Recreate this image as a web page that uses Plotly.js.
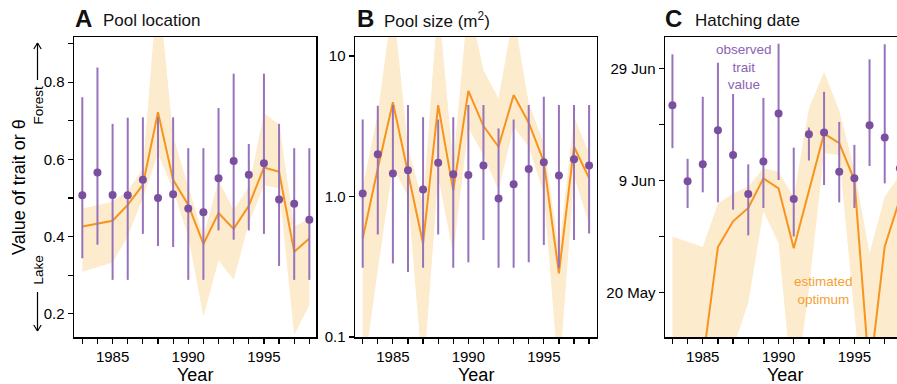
<!DOCTYPE html>
<html>
<head>
<meta charset="utf-8">
<script src="https://cdn.plot.ly/plotly-3.0.1.min.js"></script>
<style>html,body{margin:0;padding:0;background:#fff;}#chart{width:897px;height:384px;}</style>
</head>
<body>
<div id="chart"></div>
<script>
// ---------- data ----------
const years = [1983,1984,1985,1986,1987,1988,1989,1990,1991,1992,1993,1994,1995,1996,1997,1998];
const xTickVals = [1983,1984,1985,1986,1987,1988,1989,1990,1991,1992,1993,1994,1995,1996,1997,1998];
const xTickText = ['','','1985','','','','','1990','','','','','1995','','',''];

// A: Pool location
const locObs   = [0.507,0.566,0.508,0.507,0.547,0.500,0.510,0.473,0.463,0.551,0.596,0.560,0.590,0.496,0.485,0.444];
const locObsHi = [0.761,0.838,0.692,0.708,0.709,0.709,0.709,0.629,0.629,0.733,0.822,0.640,0.822,0.692,0.629,0.629];
const locObsLo = [0.344,0.379,0.288,0.288,0.407,0.376,0.373,0.288,0.288,0.416,0.392,0.416,0.407,0.324,0.288,0.288];
const locOpt   = [0.426,0.433,0.441,0.482,0.534,0.722,0.547,0.482,0.381,0.461,0.420,0.480,0.579,0.568,0.361,0.395];
const locOptHi = [0.473,0.482,0.490,0.519,0.576,1.060,0.660,0.530,0.400,0.546,0.469,0.529,0.720,0.691,0.426,0.447];
const locOptLo = [0.309,0.322,0.333,0.400,0.500,0.616,0.520,0.400,0.193,0.338,0.288,0.434,0.533,0.525,0.145,0.223];
const locTickVals = [0.2,0.3,0.4,0.5,0.6,0.7,0.8,0.9];
const locTickText = ['0.2','','0.4','','0.6','','0.8',''];

// B: Pool size (m2)
const sizeObs   = [1.05,2.00,1.46,1.54,1.12,1.74,1.44,1.42,1.66,0.969,1.22,1.57,1.75,1.41,1.84,1.66];
const sizeObsHi = [3.53,4.43,4.47,4.47,3.66,3.53,3.66,4.47,4.47,3.05,3.53,4.47,5.13,4.47,4.47,4.47];
const sizeObsLo = [0.311,0.537,0.334,0.290,0.311,0.537,0.311,0.340,0.490,0.311,0.311,0.340,0.451,0.311,0.490,0.546];
const sizeOpt   = [0.503,1.58,4.68,1.46,0.463,4.47,1.10,5.65,3.17,2.26,5.27,3.35,1.77,0.284,2.26,1.35];
const sizeOptHi = [1.17,3.9,25,2.26,0.89,25,1.72,25,7.9,5.0,20,4.6,2.39,0.416,3.69,2.03];
const sizeOptLo = [0.05,0.30,1.63,1.0,0.05,1.38,0.39,3.1,1.96,1.11,3.13,2.26,1.05,0.05,1.38,0.64];
const sizeTickVals = [0.1,1,10];
const sizeTickText = ['0.1','1.0','10'];

// C: Hatching date (day of year)
const hatchObs   = [173.5,159.9,162.9,169.0,164.6,157.6,163.4,172.0,156.7,168.3,168.6,161.6,160.4,169.9,167.7,162.2];
const hatchObsHi = [182.6,163.9,175.0,181.1,175.5,162.9,174.8,184.5,165.9,169.5,175.9,170.5,166.4,181.7,184.4,172.0];
const hatchObsLo = [165.8,155.1,157.9,156.1,154.8,150.2,155.1,160.1,150.0,163.6,159.2,156.1,155.1,162.6,159.5,152.0];
const hatchOpt   = [127.0,126.0,127.5,148.1,152.7,155.1,160.4,158.6,147.9,158.2,168.4,166.7,160.1,125.0,148.2,156.7];
const hatchOptHi = [150.0,149.1,148.1,155.9,157.7,158.9,162.2,161.6,157.0,172.9,179.5,172.6,162.0,147.0,157.1,161.0];
const hatchOptLo = [110,110,110,110,130,138.1,154.5,148.8,120,140.6,164.9,164.6,136,110,110,110];
const hatchTickVals = [140,150,160,170,180];
const hatchTickText = ['20 May','','9 Jun','','29 Jun'];

// ---------- style ----------
const W = 897, H = 384;
const FONT = 'Liberation Sans, Arial, Helvetica, sans-serif';
const ORANGE = '#F7941D', BAND = '#FDEBCD', PURPLE = '#7B4F9F', BAR = '#9673BB';

function panelTraces(xa, ya, obs, hi, lo, opt, optHi, optLo) {
  return [
    {x: years, y: optLo, xaxis: xa, yaxis: ya, type: 'scatter', mode: 'lines',
     line: {width: 0, color: BAND}, hoverinfo: 'skip', showlegend: false},
    {x: years, y: optHi, xaxis: xa, yaxis: ya, type: 'scatter', mode: 'lines',
     fill: 'tonexty', fillcolor: BAND, line: {width: 0, color: BAND}, hoverinfo: 'skip', showlegend: false},
    {x: years, y: opt, xaxis: xa, yaxis: ya, type: 'scatter', mode: 'lines',
     line: {width: 2, color: ORANGE}, showlegend: false},
    {x: years, y: obs, xaxis: xa, yaxis: ya, type: 'scatter', mode: 'markers',
     marker: {size: 8, color: PURPLE},
     error_y: {type: 'data', symmetric: false,
               array: hi.map((v, i) => v - obs[i]),
               arrayminus: lo.map((v, i) => obs[i] - v),
               width: 0, thickness: 2, color: BAR},
     showlegend: false}
  ];
}

const data = [].concat(
  panelTraces('x', 'y', locObs, locObsHi, locObsLo, locOpt, locOptHi, locOptLo),
  panelTraces('x2', 'y2', sizeObs, sizeObsHi, sizeObsLo, sizeOpt, sizeOptHi, sizeOptLo),
  panelTraces('x3', 'y3', hatchObs, hatchObsHi, hatchObsLo, hatchOpt, hatchOptHi, hatchOptLo)
);

const px = v => v / W, py = v => 1 - v / H;
const axBase = {
  showline: true, linecolor: '#000', linewidth: 1.5, mirror: true,
  ticks: 'outside', ticklen: 5, tickwidth: 1.2, tickcolor: '#000',
  showgrid: false, zeroline: false, tickfont: {size: 15, color: '#000', family: FONT}
};
const yDom = [py(337), py(37)];
const xAx = (dom, range, anchor) => Object.assign({}, axBase, {
  domain: dom, range: range, anchor: anchor, tickmode: 'array',
  tickvals: xTickVals, ticktext: xTickText
});

function ann(x, y, text, o) {
  return Object.assign({xref: 'paper', yref: 'paper', x: px(x), y: py(y), text: text,
    showarrow: false, xanchor: 'center', yanchor: 'middle',
    font: {family: FONT, size: 15, color: '#000'}}, o || {});
}

const annotations = [
  ann(72.5, 18.5, '<b>A</b>', {xanchor: 'left', font: {family: FONT, size: 24, color: '#111'}}),
  ann(100.5, 20, 'Pool location', {xanchor: 'left', font: {family: FONT, size: 17, color: '#111'}}),
  ann(354.5, 18.5, '<b>B</b>', {xanchor: 'left', font: {family: FONT, size: 24, color: '#111'}}),
  ann(381.5, 20, 'Pool size (m<sup>2</sup>)', {xanchor: 'left', font: {family: FONT, size: 17, color: '#111'}}),
  ann(662.5, 18.5, '<b>C</b>', {xanchor: 'left', font: {family: FONT, size: 24, color: '#111'}}),
  ann(692.5, 20, 'Hatching date', {xanchor: 'left', font: {family: FONT, size: 17, color: '#111'}}),
  ann(18.5, 187.5, 'Value of trait or θ', {textangle: -90, font: {family: FONT, size: 18, color: '#000'}}),
  ann(37.5, 105, 'Forest', {textangle: -90, font: {family: FONT, size: 13.5, color: '#000'}}),
  ann(37.5, 270, 'Lake', {textangle: -90, font: {family: FONT, size: 13.5, color: '#000'}}),
  ann(195, 375, 'Year', {font: {family: FONT, size: 18, color: '#000'}}),
  ann(476, 375, 'Year', {font: {family: FONT, size: 18, color: '#000'}}),
  ann(785, 375, 'Year', {font: {family: FONT, size: 18, color: '#000'}}),
  ann(743.5, 67, 'observed<br>trait<br>value', {font: {family: FONT, size: 13.5, color: '#8C62B5'}}),
  ann(823.5, 290, 'estimated<br>optimum', {font: {family: FONT, size: 13.5, color: '#F5A033'}})
];

const ln = (x0, y0, x1, y1) => ({type: 'line', xref: 'paper', yref: 'paper',
  x0: px(x0), y0: py(y0), x1: px(x1), y1: py(y1), line: {color: '#000', width: 1.2}});
const shapes = [
  ln(37.5, 80, 37.5, 43), ln(33.8, 49, 37.5, 43), ln(41.2, 49, 37.5, 43),
  ln(37.5, 292, 37.5, 331), ln(33.8, 325, 37.5, 331), ln(41.2, 325, 37.5, 331)
];

const layout = {
  width: W, height: H, margin: {l: 0, r: 0, t: 0, b: 0},
  paper_bgcolor: '#fff', plot_bgcolor: '#fff', showlegend: false,
  font: {family: FONT},
  xaxis: xAx([px(74), px(316)], [1982.45, 1998.44], 'y'),
  yaxis: Object.assign({}, axBase, {domain: yDom, range: [0.14, 0.917], anchor: 'x',
    tickmode: 'array', tickvals: locTickVals, ticktext: locTickText}),
  xaxis2: xAx([px(355), px(596.5)], [1982.49, 1998.49], 'y2'),
  yaxis2: Object.assign({}, axBase, {domain: yDom, type: 'log', range: [-1, 1.135], anchor: 'x2',
    tickmode: 'array', tickvals: sizeTickVals, ticktext: sizeTickText}),
  xaxis3: xAx([px(665), 1], [1982.51, 1997.81], 'y3'),
  yaxis3: Object.assign({}, axBase, {domain: yDom, range: [132.0, 185.7], anchor: 'x3', mirror: false,
    tickmode: 'array', tickvals: hatchTickVals, ticktext: hatchTickText}),
  annotations: annotations,
  shapes: shapes
};

Plotly.newPlot('chart', data, layout, {staticPlot: true, displayModeBar: false});
</script>
</body>
</html>
